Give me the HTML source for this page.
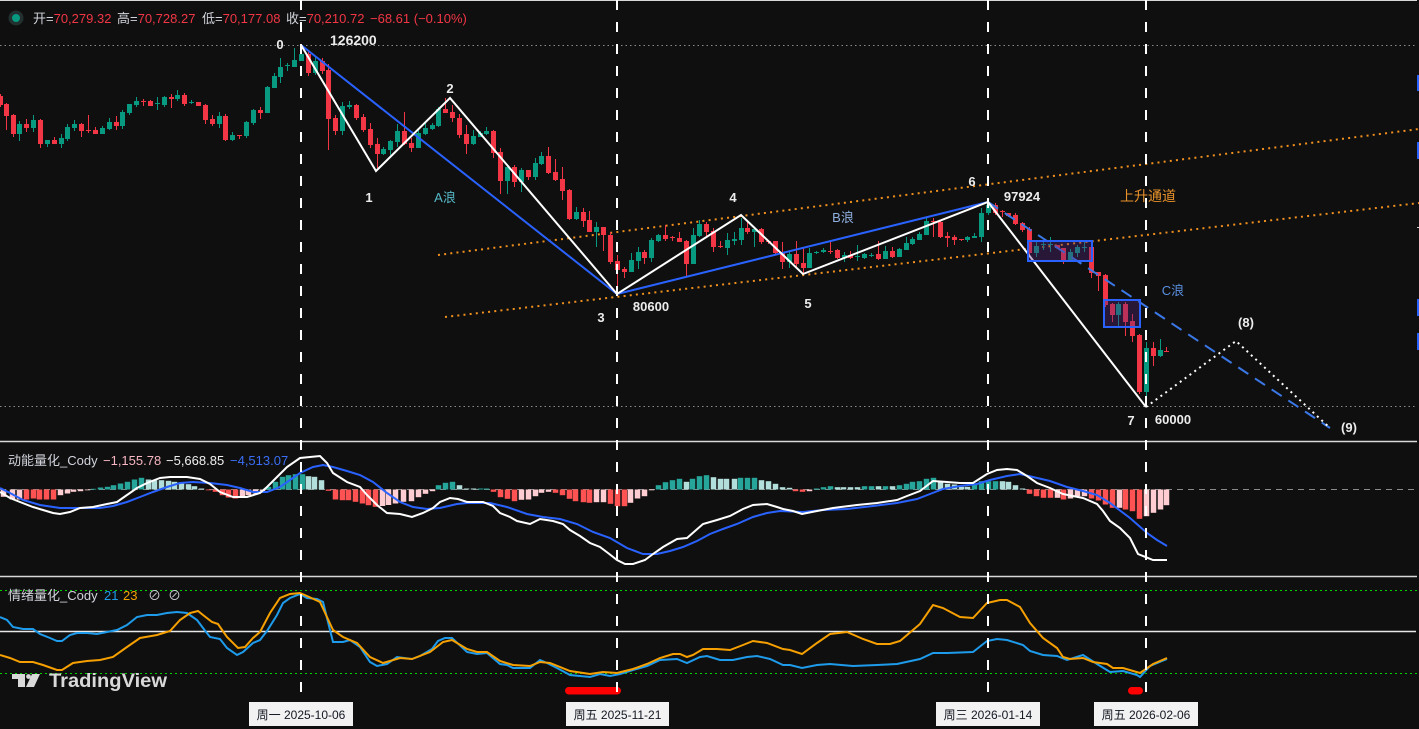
<!DOCTYPE html>
<html><head><meta charset="utf-8">
<style>
html,body{margin:0;padding:0;background:#0f0f0f;width:1419px;height:729px;overflow:hidden}
svg{display:block}
text{font-family:"Liberation Sans","Noto Sans CJK SC",sans-serif}
</style></head><body>
<svg id="s" width="1419" height="729" viewBox="0 0 1419 729" xmlns="http://www.w3.org/2000/svg">
<rect width="1419" height="729" fill="#0f0f0f"/>
<line x1="0" y1="0.5" x2="1417" y2="0.5" stroke="#d8d8d8" stroke-width="1"/>
<line x1="0" y1="45.5" x2="1417" y2="45.5" stroke="#8a8a8a" stroke-width="1" stroke-dasharray="1.5 3"/>
<line x1="0" y1="406.5" x2="1417" y2="406.5" stroke="#8a8a8a" stroke-width="1" stroke-dasharray="1.5 3"/>
<line x1="438" y1="255" x2="1419" y2="129" stroke="#f0901e" stroke-width="2" stroke-dasharray="2 4.2"/>
<line x1="445" y1="317" x2="1419" y2="203" stroke="#f0901e" stroke-width="2" stroke-dasharray="2 4.2"/>
<g id="candles"></g>
<polyline points="301,45 617,294 988,202" fill="none" stroke="#2962ff" stroke-width="2"/>
<line x1="988" y1="202" x2="1330" y2="428" stroke="#3b78e7" stroke-width="2" stroke-dasharray="12 8"/>
<polyline points="301,45 376,171 450,98 617,294 741,215 803,274 988,202 1146,407" fill="none" stroke="#ffffff" stroke-width="2" stroke-linejoin="miter"/>
<polyline points="1146,407 1236,341 1330,428" fill="none" stroke="#ffffff" stroke-width="2" stroke-dasharray="2 4"/>
<rect x="1028" y="241" width="64" height="20" fill="rgba(90,40,130,0.35)" stroke="#2962ff" stroke-width="2"/>
<rect x="1104" y="300" width="36" height="27" fill="rgba(90,40,130,0.35)" stroke="#2962ff" stroke-width="2"/>
<g font-weight="bold" fill="#ececec" font-size="13" text-anchor="middle">
<text x="280" y="49">0</text>
<text x="369" y="202">1</text>
<text x="450" y="93">2</text>
<text x="601" y="322">3</text>
<text x="651" y="311">80600</text>
<text x="733" y="202">4</text>
<text x="808" y="308">5</text>
<text x="972" y="186">6</text>
<text x="1022" y="201">97924</text>
<text x="1131" y="425">7</text>
<text x="1173" y="424">60000</text>
<text x="1246" y="327">(8)</text>
<text x="1349" y="432">(9)</text>
</g>
<text x="330" y="45" font-weight="bold" fill="#ececec" font-size="14">126200</text>
<text x="445" y="202" fill="#56b9c8" font-size="13" text-anchor="middle">A浪</text>
<text x="843" y="222" fill="#8fb0e0" font-size="13" text-anchor="middle">B浪</text>
<text x="1173" y="295" fill="#5a8fe0" font-size="13" text-anchor="middle">C浪</text>
<text x="1148" y="201" fill="#e8912a" font-size="14" text-anchor="middle">上升通道</text>
<rect x="1417" y="75" width="2" height="16" fill="#2962ff"/>
<rect x="1417" y="142" width="2" height="17" fill="#2962ff"/>
<rect x="1417" y="299" width="2" height="17" fill="#2962ff"/>
<rect x="1417" y="333" width="2" height="17" fill="#2962ff"/>
<rect x="1417" y="227" width="2" height="1" fill="#d0d0d0"/>
<circle cx="16" cy="18" r="7.5" fill="#233030"/>
<circle cx="16" cy="18" r="4" fill="#089981"/>
<g font-size="13">
<text x="33" y="23"><tspan fill="#d1d4dc">开=</tspan><tspan fill="#f23645">70,279.32</tspan></text>
<text x="117" y="23"><tspan fill="#d1d4dc">高=</tspan><tspan fill="#f23645">70,728.27</tspan></text>
<text x="202" y="23"><tspan fill="#d1d4dc">低=</tspan><tspan fill="#f23645">70,177.08</tspan></text>
<text x="286" y="23"><tspan fill="#d1d4dc">收=</tspan><tspan fill="#f23645">70,210.72</tspan></text>
<text x="370" y="23" fill="#f23645">−68.61 (−0.10%)</text>
</g>
<line x1="0" y1="441.5" x2="1417" y2="441.5" stroke="#d8d8d8" stroke-width="1.5"/>
<line x1="0" y1="576.5" x2="1417" y2="576.5" stroke="#d8d8d8" stroke-width="1.5"/>
<line x1="0" y1="489.5" x2="1417" y2="489.5" stroke="#8a8a8a" stroke-width="1" stroke-dasharray="6 5"/>
<g id="hist"></g>
<polyline fill="none" stroke="#2962ff" stroke-width="2" points="0,488 10,493 23,500 40,505 60,508 87,508 100,508 113,506 127,502 140,497 153,492 167,487 180,483 193,482 210,483 227,485 240,488 253,492 267,492 280,487 290,480 300,473 313,467 323,465 333,467 347,471 360,475 373,482 387,493 400,502 413,507 427,509 440,508 457,504 467,503 490,503 507,507 527,514 543,517 560,519 577,524 593,532 610,538 627,548 643,554 657,554 670,551 683,547 697,541 710,534 723,529 737,524 753,517 767,513 780,511 803,512 823,510 847,509 873,506 897,503 917,499 930,494 943,489 960,486 977,484 990,480 1007,476 1020,474 1033,477 1050,481 1067,487 1083,491 1097,495 1110,503 1130,518 1147,533 1157,540 1167,546"/>
<polyline fill="none" stroke="#ffffff" stroke-width="2" points="0,492 10,498 20,502 33,507 43,510 53,513 60,514 70,512 80,508 93,507 107,504 117,502 127,495 137,488 147,483 160,478 170,477 187,477 200,479 210,484 220,492 233,497 247,497 260,493 267,487 277,477 287,467 300,458 310,457 320,456 327,463 333,473 347,482 360,487 367,495 377,505 387,513 400,514 412,517 423,513 433,508 440,502 450,498 458,499 467,502 483,502 493,506 500,513 510,517 517,521 530,524 540,519 553,521 563,524 570,530 580,536 590,543 600,547 608,553 617,560 625,564 633,564 645,560 653,554 663,547 677,539 687,538 695,531 703,524 717,520 730,516 743,509 753,505 767,504 777,507 783,509 793,511 802,514 817,511 833,508 857,505 877,503 897,500 907,496 920,491 933,481 947,482 960,483 973,483 987,474 997,470 1007,469 1017,470 1027,476 1037,483 1050,488 1063,494 1083,498 1097,504 1103,511 1110,521 1120,528 1130,538 1138,554 1153,560 1167,560"/>
<g font-size="13">
<text x="8" y="465" fill="#d1d4dc">动能量化_Cody</text>
<text x="103" y="465" fill="#f7b6c2">−1,155.78</text>
<text x="166" y="465" fill="#f0f0f0">−5,668.85</text>
<text x="230" y="465" fill="#3b6ef5">−4,513.07</text>
</g>
<line x1="0" y1="590.5" x2="1417" y2="590.5" stroke="#00d000" stroke-width="1" stroke-dasharray="2 3"/>
<line x1="0" y1="673.5" x2="1417" y2="673.5" stroke="#00d000" stroke-width="1" stroke-dasharray="2 3"/>
<line x1="0" y1="631.5" x2="1416" y2="631.5" stroke="#e8e8e8" stroke-width="1.5"/>
<polyline fill="none" stroke="#1e9bea" stroke-width="2" points="0,617 7,620 13,627 23,629 33,629 40,634 50,638 57,641 62,641 70,635 77,633 87,633 97,634 107,632 117,630 127,625 137,617 147,615 157,615 167,613 177,612 187,613 197,620 203,628 210,637 220,639 227,648 237,655 243,652 253,643 260,640 267,631 277,615 283,603 290,598 300,594 307,598 317,599 323,602 333,642 343,642 350,640 360,647 370,662 377,666 387,664 397,657 412,659 420,656 432,649 438,641 445,638 452,638 467,652 477,654 487,653 500,664 507,665 513,668 530,668 540,660 547,663 557,668 570,675 590,677 600,674 610,676 620,674 633,670 647,666 660,660 677,659 687,663 700,657 707,656 720,660 733,660 747,657 757,656 770,659 783,665 790,665 802,668 817,665 830,664 853,666 877,665 897,664 920,659 933,653 947,653 973,652 987,641 997,639 1007,640 1023,645 1030,651 1043,655 1057,656 1067,660 1083,655 1097,664 1110,672 1123,671 1137,675 1140,677 1150,666 1167,659"/>
<polyline fill="none" stroke="#f5a000" stroke-width="2" points="0,655 10,658 20,662 33,662 43,665 57,670 62,670 73,663 87,661 100,660 113,657 127,647 140,638 157,635 170,631 180,620 190,613 198,611 203,615 212,622 218,624 227,637 238,648 245,647 253,638 260,632 270,613 280,598 290,594 300,593 307,596 320,602 333,630 343,637 357,643 370,657 383,663 400,658 412,659 430,652 443,642 452,640 467,649 477,652 487,652 500,661 513,665 530,666 540,662 550,663 570,671 590,674 603,672 617,673 633,669 647,664 660,658 673,654 680,654 687,657 693,655 703,649 717,649 730,650 743,645 753,641 767,643 783,649 790,650 802,654 817,643 830,634 847,632 863,639 877,644 890,644 900,641 920,624 933,605 943,608 960,617 973,618 987,603 1000,600 1007,600 1020,607 1030,623 1043,638 1057,648 1063,657 1070,659 1083,658 1093,662 1107,664 1113,668 1123,668 1140,673 1153,664 1167,658"/>
<g font-size="13">
<text x="8" y="600" fill="#d1d4dc">情绪量化_Cody</text>
<text x="104" y="600" fill="#1e9bea">21</text>
<text x="123" y="600" fill="#f5a000">23</text>
<text x="148" y="600" fill="#d1d4dc">⊘</text>
<text x="168" y="600" fill="#d1d4dc">⊘</text>
</g>
<rect x="565" y="687" width="56" height="7.5" rx="3.7" fill="#ff0000"/>
<rect x="1128" y="687" width="15" height="7.5" rx="3.7" fill="#ff0000"/>
<g fill="#d9d9d9">
<rect x="12" y="674" width="13" height="5"/>
<rect x="18" y="674" width="7" height="13"/>
<circle cx="28.5" cy="676.5" r="2.4"/>
<polygon points="32,674 40,674 34,687 26,687"/>
<text x="49" y="687" font-size="19.5" font-weight="bold" textLength="118" lengthAdjust="spacingAndGlyphs">TradingView</text>
</g>
<g stroke="#ffffff" stroke-width="2" stroke-dasharray="10 12">
<line x1="301" y1="0" x2="301" y2="699"/>
<line x1="617" y1="0" x2="617" y2="699"/>
<line x1="988" y1="0" x2="988" y2="699"/>
<line x1="1146" y1="0" x2="1146" y2="699"/>
</g>
<g font-size="12" fill="#131722" text-anchor="middle">
<rect x="249" y="702" width="104" height="24" fill="#f2f2f2"/>
<text x="301" y="719">周一 2025-10-06</text>
<rect x="566" y="702" width="103" height="24" fill="#f2f2f2"/>
<text x="617.5" y="719">周五 2025-11-21</text>
<rect x="936" y="702" width="104" height="24" fill="#f2f2f2"/>
<text x="988" y="719">周三 2026-01-14</text>
<rect x="1094" y="702" width="104" height="24" fill="#f2f2f2"/>
<text x="1146" y="719">周五 2026-02-06</text>
</g>
</svg>
<script>
(function(){
var NS="http://www.w3.org/2000/svg";
function el(p,t,a){var e=document.createElementNS(NS,t);for(var k in a)e.setAttribute(k,a[k]);p.appendChild(e);return e;}
var C=[[0,96,105,94,107,0],[6,104,116,103,130,0],[13,115,134,114,137,0],[19,124,134,121,141,1],[26,124,128,119,132,0],[33,120,128,115,132,1],[40,120,144,119,148,0],[47,140,144,140,147,1],[54,140,144,137,144,0],[61,138,144,134,148,1],[67,127,139,124,141,1],[74,124,128,120,131,1],[81,124,131,123,137,0],[88,130,131,115,133,0],[95,130,134,127,134,0],[102,128,134,126,134,1],[109,122,129,118,130,1],[116,122,126,116,130,0],[122,112,126,110,129,1],[129,104,113,104,115,1],[136,101,105,97,107,1],[143,101,102,99,106,0],[150,101,106,100,106,0],[157,103,104,97,110,1],[164,97,105,96,107,1],[171,97,99,94,108,0],[177,95,99,90,101,1],[184,95,104,93,106,0],[191,102,103,100,104,1],[198,102,106,102,106,0],[205,105,120,104,124,0],[212,119,124,115,126,0],[219,116,124,112,128,1],[225,116,140,114,141,0],[232,135,140,132,141,1],[239,135,136,135,139,0],[246,122,136,121,138,1],[253,110,123,109,125,1],[260,110,113,107,119,0],[267,87,113,86,113,1],[274,76,88,73,88,1],[280,67,77,58,83,1],[287,65,66,63,71,1],[294,60,67,48,67,1],[301,54,61,45,61,1],[308,54,73,52,76,0],[315,61,73,57,75,1],[322,61,71,58,74,0],[328,70,119,64,150,0],[335,118,131,115,135,0],[342,106,131,102,135,1],[349,105,107,101,109,1],[356,105,118,104,120,0],[363,117,130,114,132,0],[370,129,145,123,148,0],[377,144,154,138,168,0],[383,149,154,147,155,1],[390,141,150,140,155,1],[397,131,142,124,147,1],[404,131,144,112,145,0],[411,143,148,138,152,0],[418,133,148,128,148,1],[425,128,134,123,135,1],[432,125,129,123,130,1],[438,109,126,107,127,1],[445,109,113,98,113,0],[452,112,118,105,122,0],[459,118,135,114,138,0],[466,134,144,125,154,0],[473,136,144,130,145,1],[480,133,137,131,137,1],[486,131,134,127,135,1],[493,131,153,130,158,0],[500,152,181,148,194,0],[507,167,181,164,194,1],[514,167,182,165,187,0],[521,170,182,168,192,1],[528,170,177,170,180,0],[535,163,177,158,180,1],[541,156,164,152,165,1],[548,156,173,147,174,0],[555,172,180,159,181,0],[562,179,191,167,200,0],[569,190,219,189,220,0],[576,212,219,207,220,1],[583,212,221,208,227,0],[589,220,232,211,232,0],[596,227,232,222,247,1],[603,227,235,227,251,0],[610,235,262,232,264,0],[617,261,270,255,293,0],[624,269,272,267,278,0],[631,260,272,253,272,1],[638,252,261,247,269,1],[644,252,258,250,264,0],[651,240,258,238,262,1],[658,235,241,234,242,1],[665,235,239,225,241,0],[672,237,238,236,241,0],[679,238,242,232,242,0],[686,241,264,240,276,0],[693,235,264,228,264,1],[699,224,236,220,237,1],[706,224,232,222,238,0],[713,231,247,228,252,0],[720,246,247,241,248,0],[727,240,248,233,255,1],[734,239,241,232,245,1],[741,228,240,218,245,1],[747,228,232,220,234,0],[754,229,232,228,247,1],[761,229,242,228,244,0],[768,241,242,240,244,0],[775,241,253,241,255,0],[782,252,262,242,269,0],[789,254,262,252,268,1],[796,254,264,241,268,0],[803,263,268,247,274,0],[809,253,268,248,268,1],[816,252,253,251,254,1],[823,250,252,248,253,1],[830,251,252,240,254,0],[837,250,258,249,259,0],[844,255,258,252,262,1],[850,255,258,251,259,0],[857,256,257,245,261,1],[864,254,258,253,259,1],[871,255,256,253,257,1],[878,254,259,241,260,0],[885,251,259,246,259,1],[892,251,257,247,258,0],[899,249,257,248,257,1],[906,243,250,237,250,1],[912,239,244,237,245,1],[919,234,240,232,240,1],[926,221,235,217,235,1],[933,221,222,218,237,0],[940,222,237,221,238,0],[947,236,238,232,247,0],[954,237,240,235,245,0],[961,239,240,239,241,0],[967,237,240,236,242,1],[974,236,238,233,238,1],[981,213,237,208,242,1],[988,205,213,200,215,1],[995,205,213,203,215,0],[1002,211,212,210,217,0],[1008,213,216,213,217,0],[1015,215,224,213,225,0],[1022,223,230,222,232,0],[1029,229,253,227,255,0],[1036,246,253,242,257,1],[1043,244,245,240,250,1],[1050,244,245,237,252,1],[1057,245,248,245,248,0],[1063,248,262,248,264,0],[1070,252,262,249,262,1],[1077,247,253,245,257,1],[1084,247,248,242,252,1],[1091,247,273,247,278,0],[1098,272,276,272,291,0],[1105,275,305,274,307,0],[1112,304,315,303,322,0],[1118,304,315,302,327,1],[1125,304,322,302,336,0],[1132,321,336,314,342,0],[1139,335,392,334,394,0],[1146,348,392,342,407,1],[1153,348,356,342,366,0],[1160,350,356,339,357,1],[1166,351,352,347,352,0]];
var g=document.getElementById('candles');
C.forEach(function(c){var col=c[5]?'#089981':'#f23645';
el(g,'rect',{x:c[0],y:c[3],width:1,height:Math.max(1,c[4]-c[3]),fill:col});
el(g,'rect',{x:c[0]-2,y:c[1],width:5,height:Math.max(1,c[2]-c[1]),fill:col});});
var H=[[3,7.3,'P'],[12,10,'P'],[19,10,'P'],[26,10,'R'],[33,9,'R'],[39,10,'R'],[46,10,'R'],[53,10,'R'],[60,5.7,'P'],[67,4,'P'],[73,2.3,'P'],[80,1.7,'P'],[87,0.6,'P'],[93,-0.7,'T'],[100,-2,'T'],[107,-2.7,'T'],[113,-4.3,'T'],[120,-6,'T'],[127,-7.7,'T'],[134,-10,'T'],[141,-11.7,'T'],[148,-10,'L'],[154,-9.3,'L'],[161,-9.3,'L'],[168,-8.7,'L'],[174,-7.7,'L'],[181,-6,'L'],[188,-5.3,'L'],[194,-3.3,'L'],[201,-1,'L'],[208,0.6,'R'],[215,2.3,'R'],[222,5.7,'R'],[228,8,'R'],[235,9,'R'],[242,8,'P'],[248,5.7,'P'],[255,4,'P'],[262,2.3,'P'],[268,-2.7,'T'],[275,-7.7,'T'],[282,-12.7,'T'],[288,-14.3,'T'],[295,-15.3,'T'],[302,-15.3,'T'],[308,-13.3,'L'],[314,-12.7,'L'],[321,-9.3,'L'],[328,1.3,'R'],[335,10,'R'],[342,10.7,'R'],[348,10.7,'R'],[355,12.3,'R'],[362,14,'R'],[368,15.7,'R'],[375,17.3,'R'],[382,16.5,'P'],[388,15.5,'P'],[395,14,'P'],[403,12.3,'P'],[411,11.7,'P'],[418,7.7,'P'],[425,4.3,'P'],[432,1.7,'P'],[438,-4.3,'T'],[445,-6.7,'T'],[452,-7.7,'T'],[459,-4.3,'L'],[466,-1,'L'],[473,-1,'L'],[480,-1,'T'],[486,-1,'T'],[493,2.3,'R'],[500,7.7,'R'],[507,9.3,'R'],[514,11.7,'R'],[521,10.3,'P'],[528,10,'P'],[535,6.7,'P'],[541,3.3,'P'],[548,2.3,'P'],[555,3.3,'R'],[562,5.7,'R'],[569,9.3,'R'],[575,11.7,'R'],[583,12.7,'R'],[589,13.3,'R'],[596,12.7,'P'],[603,12.7,'P'],[610,14.3,'R'],[617,16.7,'R'],[624,16.7,'R'],[630,13.3,'P'],[637,9,'P'],[644,6.7,'P'],[651,0.7,'P'],[658,-4.3,'T'],[665,-7.3,'T'],[672,-9.3,'T'],[679,-10.7,'T'],[686,-7.7,'L'],[692,-10.7,'T'],[699,-13.3,'T'],[706,-14.3,'T'],[713,-12.3,'L'],[720,-10.7,'L'],[726,-10.7,'L'],[734,-10.7,'L'],[740,-11.7,'T'],[747,-11.7,'T'],[754,-11.7,'T'],[761,-9.3,'L'],[768,-8.3,'L'],[775,-5.7,'L'],[782,-2.3,'L'],[789,-1.7,'L'],[795,1.7,'R'],[802,2.3,'R'],[809,1.7,'P'],[816,-1,'T'],[823,-2.3,'T'],[830,-3.3,'T'],[837,-2.3,'L'],[843,-2.3,'L'],[850,-2.3,'L'],[857,-2.3,'L'],[864,-3.3,'T'],[871,-3.3,'T'],[878,-3.3,'L'],[885,-3.3,'T'],[892,-3.3,'L'],[899,-4.3,'T'],[906,-5.7,'T'],[912,-7.7,'T'],[919,-8.3,'T'],[926,-10.7,'T'],[933,-11.7,'T'],[940,-8.3,'L'],[947,-5.7,'L'],[954,-5,'L'],[961,-2.7,'L'],[967,-2.7,'L'],[974,-5.7,'T'],[981,-8.3,'T'],[988,-8.3,'T'],[995,-8.3,'T'],[1002,-8.3,'L'],[1008,-7.7,'L'],[1015,-4.3,'L'],[1022,-1,'L'],[1029,4.3,'R'],[1036,6.7,'R'],[1043,8.3,'R'],[1050,8.3,'R'],[1057,8.3,'P'],[1063,10,'R'],[1070,9,'P'],[1077,6.7,'P'],[1084,6.7,'P'],[1091,9,'R'],[1098,11,'R'],[1105,15,'R'],[1112,18.3,'R'],[1119,18.3,'P'],[1125,20,'R'],[1132,21.7,'R'],[1139,29.3,'R'],[1146,26.7,'P'],[1153,23.3,'P'],[1160,20,'P'],[1166,15.7,'P']];
var cm={T:'#26a69a',L:'#b2dfdb',R:'#ff5252',P:'#ffcdd2'};
var gh=document.getElementById('hist');
H.forEach(function(h){var v=h[1];var y=v<0?489.5+v:489.5;
el(gh,'rect',{x:h[0]-2.25,y:y,width:5.5,height:Math.max(0.8,Math.abs(v)),fill:cm[h[2]]});});
})();
</script>
</body></html>
